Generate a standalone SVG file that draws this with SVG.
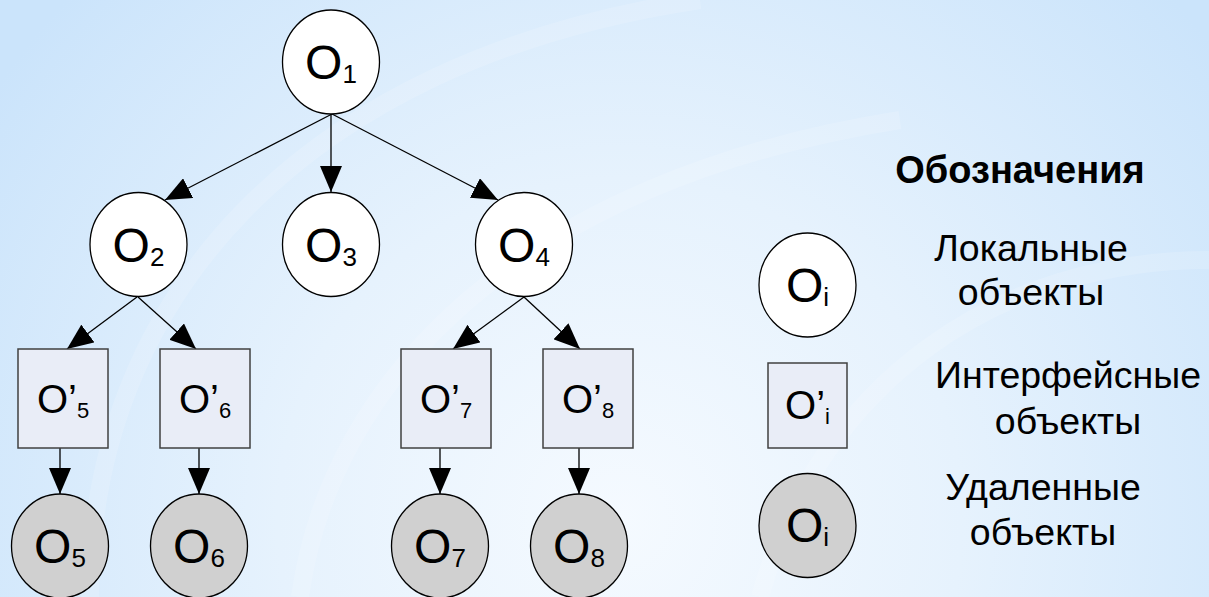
<svg xmlns="http://www.w3.org/2000/svg" width="1209" height="597" viewBox="0 0 1209 597">
<defs>
<radialGradient id="bg" cx="620" cy="520" r="760" gradientUnits="userSpaceOnUse">
<stop offset="0" stop-color="#f5faff"/>
<stop offset="0.45" stop-color="#e6f2fd"/>
<stop offset="1" stop-color="#cbe4fb"/>
</radialGradient>
<marker id="ah" markerUnits="userSpaceOnUse" markerWidth="26" markerHeight="22" refX="26" refY="11" orient="auto" viewBox="0 0 26 22">
<path d="M0,0 L26,11 L0,22 z" fill="#000"/>
</marker>
<style>
.loc{fill:#ffffff;stroke:#000;stroke-width:1.3}
.rem{fill:#d0d0d0;stroke:#000;stroke-width:1.3}
.itf{fill:#e9edf7;stroke:#404040;stroke-width:1.5}
.lbl{font-family:"Liberation Sans",Arial,sans-serif;font-size:48px;fill:#000;text-anchor:middle}
.lbs{font-family:"Liberation Sans",Arial,sans-serif;font-size:40px;fill:#000;text-anchor:middle}
.leg{font-family:"Liberation Sans",Arial,sans-serif;font-size:37.5px;fill:#000;text-anchor:middle}
.ttl{font-family:"Liberation Sans",Arial,sans-serif;font-size:38px;font-weight:bold;fill:#000;text-anchor:middle}
.con{stroke:#000;stroke-width:1.3;fill:none;marker-end:url(#ah)}
</style>
</defs>
<rect x="0" y="0" width="1209" height="597" fill="url(#bg)"/>
<g fill="none" stroke="#ffffff" stroke-opacity="0.15" stroke-width="18">
<path d="M90,597 C90,300 300,60 700,0"/>
<path d="M300,597 C330,380 520,180 900,120"/>
<path d="M1209,260 C1000,260 820,380 760,597"/>
</g>
<g id="connectors">
<line class="con" x1="332" y1="114" x2="165" y2="200"/>
<line class="con" x1="331" y1="114" x2="331" y2="192"/>
<line class="con" x1="332" y1="114" x2="498" y2="200"/>
<line class="con" x1="137" y1="297" x2="67" y2="349"/>
<line class="con" x1="138" y1="297" x2="196" y2="349"/>
<line class="con" x1="524" y1="297" x2="453" y2="349"/>
<line class="con" x1="524" y1="297" x2="580" y2="349"/>
<line class="con" x1="60" y1="448" x2="60" y2="494"/>
<line class="con" x1="199" y1="448" x2="199" y2="494"/>
<line class="con" x1="440" y1="448" x2="440" y2="494"/>
<line class="con" x1="579" y1="448" x2="579" y2="494"/>
</g>
<g id="n1"><ellipse class="loc" cx="331" cy="62" rx="48.5" ry="52"/><text class="lbl" x="331" y="79">O<tspan font-size="26" dy="4">1</tspan></text></g>
<g id="n2"><ellipse class="loc" cx="138.5" cy="244.5" rx="48.5" ry="52"/><text class="lbl" x="138.5" y="261.5">O<tspan font-size="26" dy="4">2</tspan></text></g>
<g id="n3"><ellipse class="loc" cx="331" cy="244.5" rx="48.5" ry="52"/><text class="lbl" x="331" y="261.5">O<tspan font-size="26" dy="4">3</tspan></text></g>
<g id="n4"><ellipse class="loc" cx="524" cy="244.5" rx="48.5" ry="52"/><text class="lbl" x="524" y="261.5">O<tspan font-size="26" dy="4">4</tspan></text></g>
<g id="i5"><rect class="itf" x="18" y="349" width="90" height="99"/><text class="lbs" x="63" y="413">O’<tspan font-size="22" dy="5">5</tspan></text></g>
<g id="i6"><rect class="itf" x="160" y="349" width="90" height="99"/><text class="lbs" x="205" y="413">O’<tspan font-size="22" dy="5">6</tspan></text></g>
<g id="i7"><rect class="itf" x="401" y="349" width="90" height="99"/><text class="lbs" x="446" y="413">O’<tspan font-size="22" dy="5">7</tspan></text></g>
<g id="i8"><rect class="itf" x="543" y="349" width="90" height="99"/><text class="lbs" x="588" y="413">O’<tspan font-size="22" dy="5">8</tspan></text></g>
<g id="r5"><ellipse class="rem" cx="60" cy="546" rx="48.5" ry="52"/><text class="lbl" x="60" y="563">O<tspan font-size="26" dy="4">5</tspan></text></g>
<g id="r6"><ellipse class="rem" cx="199" cy="546" rx="48.5" ry="52"/><text class="lbl" x="199" y="563">O<tspan font-size="26" dy="4">6</tspan></text></g>
<g id="r7"><ellipse class="rem" cx="440" cy="546" rx="48.5" ry="52"/><text class="lbl" x="440" y="563">O<tspan font-size="26" dy="4">7</tspan></text></g>
<g id="r8"><ellipse class="rem" cx="579" cy="546" rx="48.5" ry="52"/><text class="lbl" x="579" y="563">O<tspan font-size="26" dy="4">8</tspan></text></g>
<g id="legend">
<text class="ttl" x="1020" y="183">Обозначения</text>
<g id="leg-local"><ellipse class="loc" cx="807.5" cy="285" rx="48.5" ry="52"/><text class="lbl" x="807.5" y="302">O<tspan font-size="26" dy="4">i</tspan></text>
<text class="leg" x="1031" y="261">Локальные</text><text class="leg" x="1031" y="305">объекты</text></g>
<g id="leg-itf"><rect class="itf" x="768" y="363" width="79" height="85"/><text class="lbs" x="807.5" y="419">O’<tspan font-size="22" dy="5">i</tspan></text>
<text class="leg" x="1068" y="388">Интерфейсные</text><text class="leg" x="1068" y="434">объекты</text></g>
<g id="leg-rem"><ellipse class="rem" cx="807.5" cy="525.5" rx="48.5" ry="52"/><text class="lbl" x="807.5" y="542">O<tspan font-size="26" dy="4">i</tspan></text>
<text class="leg" x="1043" y="500">Удаленные</text><text class="leg" x="1043" y="545">объекты</text></g>
</g>
</svg>
